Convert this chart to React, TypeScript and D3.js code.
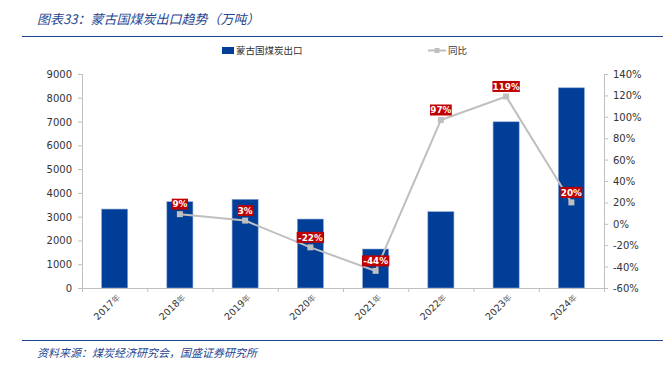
import React from "react";
import * as d3 from "d3";

const years = ["2017", "2018", "2019", "2020", "2021", "2022", "2023", "2024"];
const exports = [3320, 3630, 3730, 2900, 1640, 3210, 6990, 8420];
const yoy: (number | null)[] = [null, 9, 3, -22, -44, 97, 119, 20];
const leftTicks = [0, 1000, 2000, 3000, 4000, 5000, 6000, 7000, 8000, 9000];
const rightTicks = [-60, -40, -20, 0, 20, 40, 60, 80, 100, 120, 140];

const W = 663;
const H = 368;
const X0 = 82;
const X1 = 604;
const YT = 74;
const YB = 288;
const BLUE = "#003E98";
const GRAY = "#BFBFBF";
const AXIS = "#BFBFBF";
const TXT = "#333333";
const NUMFONT = "Verdana, 'DejaVu Sans', sans-serif";
const CJK = "'Noto Sans CJK SC', sans-serif";
const TITLE_BLUE = "#1F4690";

export default function App() {
  const x = d3.scaleBand<string>().domain(years).range([X0, X1]).paddingInner(0.6).paddingOuter(0.3);
  const yL = d3.scaleLinear().domain([0, 9000]).range([YB, YT]);
  const yR = d3.scaleLinear().domain([-60, 140]).range([YB, YT]);
  const step = x.step();
  const cx = (y: string) => (x(y) as number) + x.bandwidth() / 2;

  const pts = years
    .map((yr, i) => ({ yr, v: yoy[i] }))
    .filter((d) => d.v !== null) as { yr: string; v: number }[];
  const line = d3
    .line<{ yr: string; v: number }>()
    .x((d) => cx(d.yr))
    .y((d) => yR(d.v));

  return (
    <svg width={W} height={H} style={{ position: "absolute", left: 0, top: 0, background: "#fff" }}>
      <rect x={0} y={0} width={W} height={H} fill="#fff" />
      {/* title */}
      <text x={37} y={24} fontFamily={CJK} fontSize={13} fontStyle="italic" fill={TITLE_BLUE}>
        图表33：蒙古国煤炭出口趋势（万吨）
      </text>
      <line x1={22} x2={W} y1={36.5} y2={36.5} stroke={TITLE_BLUE} strokeWidth={1.2} />

      {/* legend */}
      <rect x={222} y={47} width={12} height={7} fill={BLUE} />
      <text x={236} y={54} fontFamily={CJK} fontSize={9.5} fill={TXT}>蒙古国煤炭出口</text>
      <line x1={428} x2={446} y1={50.5} y2={50.5} stroke={GRAY} strokeWidth={2} />
      <rect x={434.5} y={48} width={5} height={5} fill={GRAY} />
      <text x={448} y={54} fontFamily={CJK} fontSize={9.5} fill={TXT}>同比</text>

      {/* left axis */}
      <line x1={X0 + 0.5} x2={X0 + 0.5} y1={YT} y2={YB} stroke={AXIS} />
      {leftTicks.map((t) => (
        <g key={"l" + t}>
          <line x1={X0 - 4} x2={X0} y1={yL(t) + 0.5} y2={yL(t) + 0.5} stroke={AXIS} />
          <text x={72} y={yL(t) + 4} textAnchor="end" fontFamily={NUMFONT} fontSize={10} fill={TXT}>
            {t}
          </text>
        </g>
      ))}

      {/* right axis */}
      <line x1={X1 + 0.5} x2={X1 + 0.5} y1={YT} y2={YB} stroke={AXIS} />
      {rightTicks.map((t) => (
        <g key={"r" + t}>
          <line x1={X1} x2={X1 + 4} y1={yR(t) + 0.5} y2={yR(t) + 0.5} stroke={AXIS} />
          <text x={613} y={yR(t) + 4} textAnchor="start" fontFamily={NUMFONT} fontSize={10} fill={TXT}>
            {t}%
          </text>
        </g>
      ))}

      {/* bars */}
      {years.map((yr, i) => (
        <rect
          key={"b" + yr}
          x={x(yr)}
          y={yL(exports[i])}
          width={x.bandwidth()}
          height={YB - yL(exports[i])}
          fill={BLUE}
          stroke="#8FA8D6"
          strokeWidth={0.6}
        />
      ))}

      {/* x axis */}
      <line x1={X0} x2={X1} y1={YB + 0.5} y2={YB + 0.5} stroke={AXIS} />
      {d3.range(years.length + 1).map((i) => (
        <line key={"xt" + i} x1={X0 + i * step + 0.5} x2={X0 + i * step + 0.5} y1={YB} y2={YB + 4} stroke={AXIS} />
      ))}
      {years.map((yr) => (
        <text
          key={"xl" + yr}
          transform={`translate(${cx(yr) + 6},${YB + 10}) rotate(-45)`}
          textAnchor="end"
          fontFamily={NUMFONT}
          fontSize={9.5}
          fill={TXT}
        >
          {yr}
          <tspan fontFamily={CJK} fontSize={8} fill="#666">年</tspan>
        </text>
      ))}

      {/* line */}
      <path d={line(pts) || ""} fill="none" stroke={GRAY} strokeWidth={2} />
      {pts.map((d) => (
        <rect key={"p" + d.yr} x={cx(d.yr) - 3} y={yR(d.v) - 3} width={6} height={6} fill={GRAY} />
      ))}

      {/* data labels */}
      {pts.map((d) => {
        const label = `${d.v}%`;
        const w = label.length * 5.6 + 5;
        const cy = yR(d.v) - 10;
        return (
          <g key={"lab" + d.yr}>
            <rect x={cx(d.yr) - w / 2} y={cy - 5.5} width={w} height={11} fill="#C00000" />
            <text
              x={cx(d.yr)}
              y={cy + 3.2}
              textAnchor="middle"
              fontFamily={NUMFONT}
              fontSize={8.8}
              fontWeight="bold"
              fill="#fff"
            >
              {label}
            </text>
          </g>
        );
      })}

      {/* footer */}
      <line x1={22} x2={W} y1={340.5} y2={340.5} stroke={TITLE_BLUE} strokeWidth={1.2} />
      <text x={37} y={357} fontFamily={CJK} fontSize={11} fontStyle="italic" fill={TITLE_BLUE}>
        资料来源：煤炭经济研究会，国盛证券研究所
      </text>
    </svg>
  );
}
